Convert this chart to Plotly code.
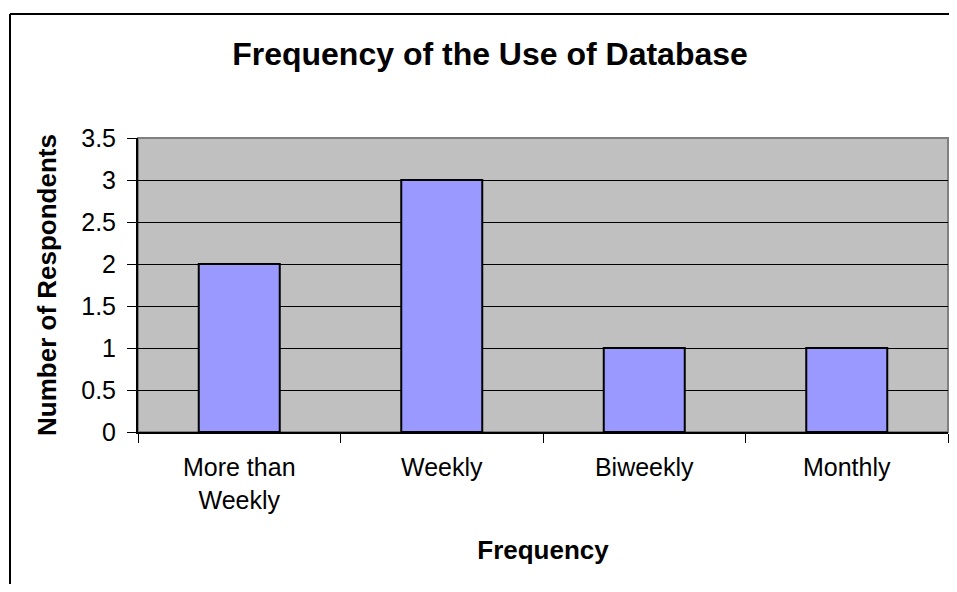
import plotly.graph_objects as go

categories = ["More than<br>Weekly", "Weekly", "Biweekly", "Monthly"]
respondents = [2, 3, 1, 1]
y_ticks = [0, 0.5, 1, 1.5, 2, 2.5, 3, 3.5]

FONT = "Liberation Sans, Arial, sans-serif"

fig = go.Figure()
fig.add_trace(go.Bar(
    x=categories, y=respondents,
    marker=dict(color="#9999FF", line=dict(color="#000000", width=2)),
    width=0.4,
))

# page has an 8px body margin; figure sized so the page does not scroll
W, H = 941, 576
ML, MR, MT, MB = 130, 1, 130, 152
pw, ph = W - ML - MR, H - MT - MB

def px_x(p):
    return (p - ML) / pw

def px_y(p):
    return (H - MB - p) / ph

fig.update_layout(
    width=W, height=H,
    margin=dict(l=ML, r=MR, t=MT, b=MB, autoexpand=False),
    paper_bgcolor="white",
    plot_bgcolor="#C0C0C0",
    showlegend=False,
    font=dict(family=FONT, color="black", size=25),
    title=dict(
        text="<b>Frequency of the Use of Database</b>",
        font=dict(size=32, family=FONT, color="black"),
        x=482 / W, xref="container", xanchor="center",
        y=1 - 46 / H, yref="container", yanchor="middle",
    ),
    xaxis=dict(
        type="category",
        tickson="boundaries",
        ticks="outside", ticklen=9, tickcolor="#000000", tickwidth=1,
        showline=True, linecolor="#000000", linewidth=2,
        showgrid=False,
        tickfont=dict(size=25, family=FONT, color="black"),
        ticklabelstandoff=12,
        title=dict(text="<b>Frequency</b>", font=dict(size=26, family=FONT, color="black"), standoff=28),
    ),
    yaxis=dict(
        range=[0, 3.5],
        tickvals=y_ticks,
        ticks="outside", ticklen=9, tickcolor="#000000", tickwidth=1,
        showline=True, linecolor="#000000", linewidth=2,
        showgrid=True, gridcolor="#000000", gridwidth=1,
        zeroline=False,
        tickfont=dict(size=25, family=FONT, color="black"),
        ticklabelstandoff=6,
        title=dict(text="<b>Number of Respondents</b>", font=dict(size=26, family=FONT, color="black"), standoff=17),
    ),
    shapes=[
        dict(type="rect", xref="paper", yref="paper", x0=0, x1=1, y0=0, y1=1,
             line=dict(color="#808080", width=2), fillcolor="rgba(0,0,0,0)", layer="below"),
        # outer chart border (left and top edges visible in the reference)
        dict(type="line", xref="paper", yref="paper",
             x0=px_x(2), x1=px_x(2), y0=px_y(H), y1=px_y(6),
             line=dict(color="#000000", width=2), layer="above"),
        dict(type="line", xref="paper", yref="paper",
             x0=px_x(2), x1=px_x(W), y0=px_y(6), y1=px_y(6),
             line=dict(color="#000000", width=2), layer="above"),
    ],
)

fig.write_html("out.html")
